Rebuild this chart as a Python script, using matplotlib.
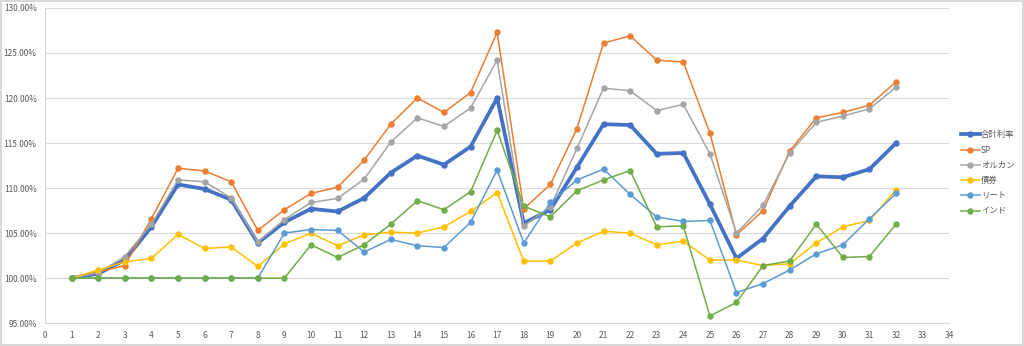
import matplotlib

matplotlib.use("Agg")
import matplotlib.pyplot as plt
from matplotlib.ticker import FuncFormatter, MultipleLocator

plt.rcParams["font.family"] = ["Noto Sans CJK JP", "DejaVu Sans"]

x = list(range(1, 33))

total = [100.0, 100.5, 102.0, 105.7, 110.4, 109.9, 108.7, 103.9, 106.2, 107.7,
         107.4, 108.9, 111.7, 113.6, 112.6, 114.6, 120.0, 106.1, 107.6, 112.3,
         117.1, 117.0, 113.8, 113.9, 108.2, 102.2, 104.4, 108.0, 111.3, 111.2,
         112.1, 115.0]
sp = [100.0, 100.7, 101.4, 106.6, 112.2, 111.9, 110.7, 105.3, 107.6, 109.4,
      110.1, 113.1, 117.1, 120.0, 118.4, 120.6, 127.3, 107.7, 110.4, 116.6,
      126.1, 126.9, 124.2, 124.0, 116.1, 104.8, 107.5, 114.1, 117.8, 118.4,
      119.2, 121.8]
allcountry = [100.0, 100.6, 102.4, 106.0, 110.9, 110.7, 108.9, 104.0, 106.5, 108.4,
              108.85, 111.0, 115.1, 117.8, 116.85, 118.9, 124.2, 105.8, 107.9, 114.4,
              121.1, 120.8, 118.6, 119.3, 113.8, 105.0, 108.1, 113.9, 117.3, 118.0,
              118.8, 121.2]
bond = [100.0, 100.9, 101.8, 102.2, 104.85, 103.3, 103.45, 101.3, 103.8, 105.0,
        103.6, 104.8, 105.1, 105.0, 105.7, 107.4, 109.5, 101.9, 101.9, 103.9,
        105.2, 105.0, 103.7, 104.1, 102.0, 102.0, 101.4, 101.6, 103.9, 105.7,
        106.4, 109.8]
reit = [100.0, 100.0, 100.0, 100.0, 100.0, 100.0, 100.0, 100.0, 105.0, 105.4,
        105.3, 102.9, 104.3, 103.6, 103.4, 106.2, 112.0, 103.9, 108.4, 110.9,
        112.1, 109.3, 106.8, 106.3, 106.4, 98.4, 99.4, 100.9, 102.7, 103.7,
        106.6, 109.4]
india = [100.0, 100.0, 100.0, 100.0, 100.0, 100.0, 100.0, 100.0, 100.0, 103.7,
         102.3, 103.7, 106.0, 108.6, 107.6, 109.6, 116.4, 108.0, 106.8, 109.7,
         110.9, 111.95, 105.7, 105.8, 95.8, 97.3, 101.4, 101.9, 106.0, 102.3,
         102.4, 106.0]

series = [
    ("合計利率", total, "#4472C4", 2.7),
    ("SP", sp, "#ED7D31", 1.1),
    ("オルカン", allcountry, "#A5A5A5", 1.1),
    ("債券", bond, "#FFC000", 1.1),
    ("リート", reit, "#5B9BD5", 1.1),
    ("インド", india, "#70AD47", 1.1),
]

fig = plt.figure(figsize=(10.24, 3.46), dpi=100)
fig.patch.set_edgecolor("#d9d9d9")
fig.patch.set_linewidth(1.5)
ax = fig.add_axes([0.044, 0.066, 0.883, 0.911])

for name, vals, color, lw in series:
    ax.plot(x, vals, color=color, linewidth=lw, marker="o", markersize=3.6,
            label=name, solid_joinstyle="round")

ax.set_xlim(0, 34)
ax.set_ylim(95, 130)
ax.xaxis.set_major_locator(MultipleLocator(1))
ax.yaxis.set_major_locator(MultipleLocator(5))
ax.yaxis.set_major_formatter(FuncFormatter(lambda v, _: f"{v:.2f}%"))
ax.grid(axis="y", color="#d9d9d9", linewidth=0.8)
ax.set_axisbelow(True)
for side in ("top", "right"):
    ax.spines[side].set_visible(False)
for side in ("bottom", "left"):
    ax.spines[side].set_color("#d9d9d9")
ax.tick_params(length=0, labelsize=6, colors="#595959", pad=6)

ax.legend(loc="center left", bbox_to_anchor=(0.938, 0.50), bbox_transform=fig.transFigure,
          frameon=False, fontsize=6, labelcolor="#595959", handlelength=2.3,
          handletextpad=0.15, labelspacing=0.75, borderpad=0, borderaxespad=0)

fig.savefig("out.png", dpi=100)
